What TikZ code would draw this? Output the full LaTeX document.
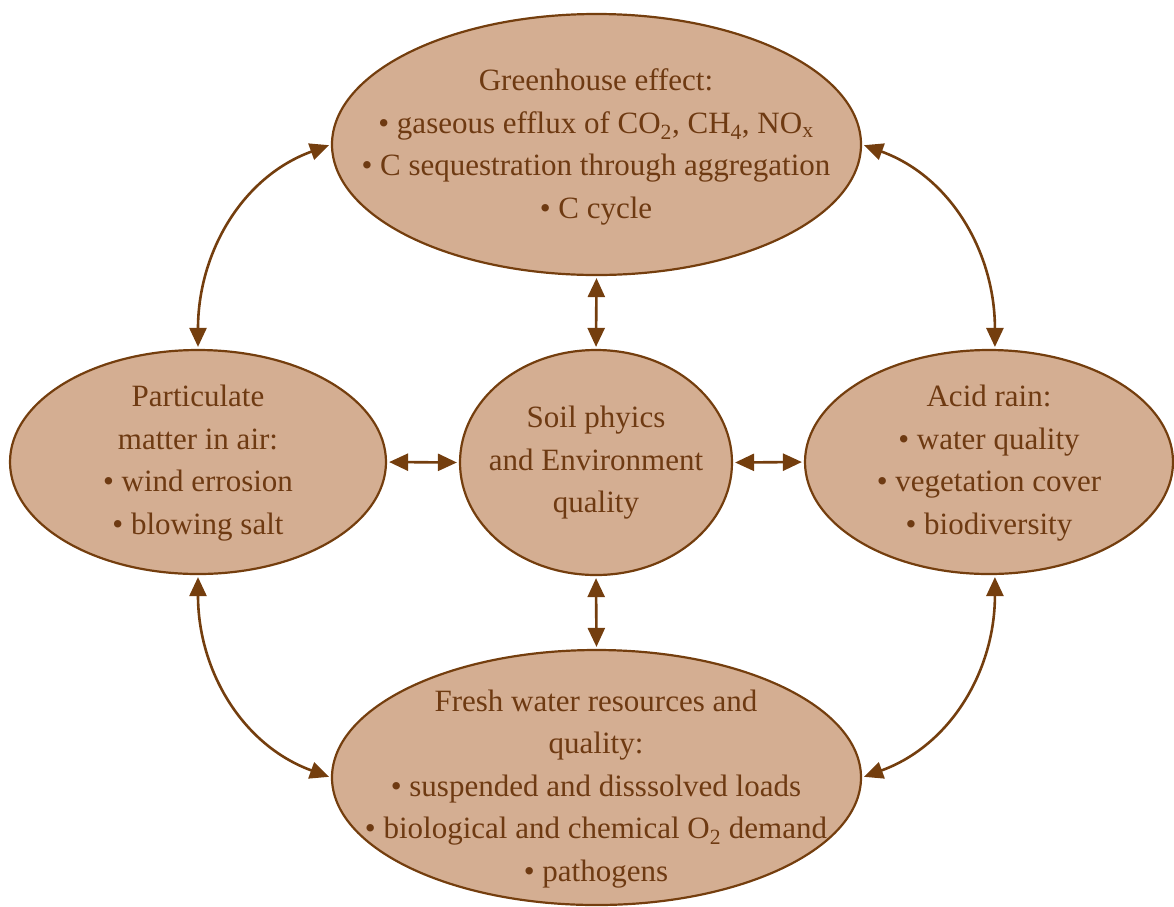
\documentclass[tikz,border=0pt]{standalone}
\usepackage{fontspec}
\setmainfont{Liberation Serif}
\usetikzlibrary{shapes.geometric,arrows.meta}

\definecolor{blobfill}{RGB}{212,174,146}
\definecolor{blobline}{RGB}{116,62,14}
\definecolor{blobtext}{RGB}{110,58,18}

\tikzset{
  blob/.style={ellipse, draw=blobline, fill=blobfill, line width=2.2pt, inner sep=0pt},
  blobtxt/.style={text=blobtext, align=center, inner sep=0pt,
    font=\fontsize{31}{42.5}\selectfont},
  link/.style={draw=blobline, line width=2.6pt,
    {Triangle[width=17pt,length=19pt]}-{Triangle[width=17pt,length=19pt]},
    shorten <=2pt, shorten >=2pt},
}

\begin{document}
\begin{tikzpicture}[x=1pt,y=-1pt]
  \useasboundingbox (0,0) rectangle (1174,906);

  % the five ellipses
  \node[blob, minimum width=529pt, minimum height=261pt] (top)    at (596.5,144.5) {};
  \node[blob, minimum width=376pt, minimum height=224pt] (left)   at (198,462) {};
  \node[blob, minimum width=272pt, minimum height=225pt] (center) at (596,462.5) {};
  \node[blob, minimum width=368pt, minimum height=224pt] (right)  at (989,462) {};
  \node[blob, minimum width=529pt, minimum height=255pt] (bottom) at (596.5,777.5) {};

  % their texts
  \node[blobtxt] (toptxt) at (596,147) {Greenhouse effect:\\
    • gaseous efflux of CO\textsubscript{2}, CH\textsubscript{4}, NO\textsubscript{x}\\
    • C sequestration through aggregation\\
    • C cycle};
  \node[blobtxt] (lefttxt) at (198,463) {Particulate\\ matter in air:\\ • wind errosion\\ • blowing salt};
  \node[blobtxt] (centertxt) at (596,463) {Soil phyics\\ and Environment\\ quality};
  \node[blobtxt] (righttxt) at (989,463) {Acid rain:\\ • water quality\\ • vegetation cover\\ • biodiversity};
  \node[blobtxt] (bottomtxt) at (596,789) {Fresh water resources and\\ quality:\\
    • suspended and disssolved loads\\
    • biological and chemical O\textsubscript{2} demand\\
    • pathogens};

  % straight links to the centre
  \draw[link] (top.south) -- (center.north);
  \draw[link] (center.south) -- (bottom.north);
  \draw[link] (left.east) -- (center.west);
  \draw[link] (center.east) -- (right.west);

  % curved links around the ring
  \draw[link] (top.west) to[out=200, in=90] (left.north);
  \draw[link] (top.east) to[out=-20, in=90] (right.87);
  \draw[link] (left.south) to[out=-90, in=160] (bottom.west);
  \draw[link] (right.-87) to[out=-90, in=20] (bottom.east);
\end{tikzpicture}
\end{document}
